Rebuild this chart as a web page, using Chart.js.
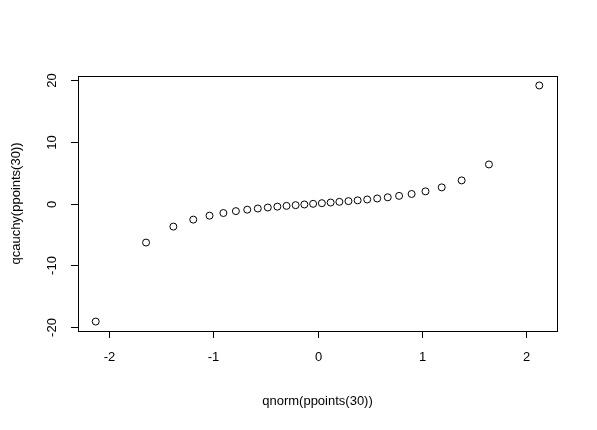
<!DOCTYPE html>
<html><head><meta charset="utf-8">
<script src="https://cdn.jsdelivr.net/npm/chart.js@4"></script>
<style>html,body{margin:0;padding:0;background:#fff}#c{display:block}</style>
</head><body>
<canvas id="c" width="597" height="430" style="width:597px;height:430px"></canvas>
<script>
const xValues=[-2.128,-1.645,-1.383,-1.192,-1.036,-0.903,-0.783,-0.674,-0.573,-0.477,-0.385,-0.297,-0.210,-0.126,-0.042,0.042,0.126,0.210,0.297,0.385,0.477,0.573,0.674,0.783,0.903,1.036,1.192,1.383,1.645,2.128];
const yValues=[-19.08,-6.314,-3.732,-2.605,-1.963,-1.540,-1.235,-1.0,-0.810,-0.649,-0.510,-0.384,-0.268,-0.158,-0.052,0.052,0.158,0.268,0.384,0.510,0.649,0.810,1.0,1.235,1.540,1.963,2.605,3.732,6.314,19.08];
const xTicks=[-2,-1,0,1,2];
const yTicks=[-20,-10,0,10,20];
const xTitle="qnorm(ppoints(30))", yTitle="qcauchy(ppoints(30))";
const FONT='13px "Liberation Sans", Arial, sans-serif';
const axesPlugin={id:'rax',afterDraw(ch){
 const c=ch.ctx,a=ch.chartArea,xs=ch.scales.x,ys=ch.scales.y;
 c.save();c.strokeStyle='#000';c.lineWidth=1;c.fillStyle='#000';c.font=FONT;
 c.strokeRect(a.left+0.5,a.top+0.5,a.right-a.left,a.bottom-a.top);
 c.beginPath();
 const x0=xs.getPixelForValue(xTicks[0]),x1=xs.getPixelForValue(xTicks[xTicks.length-1]);
 c.moveTo(x0,a.bottom+0.5);c.lineTo(x1,a.bottom+0.5);
 c.textAlign='center';c.textBaseline='top';
 xTicks.forEach(t=>{const p=Math.round(xs.getPixelForValue(t))+0.5;c.moveTo(p,a.bottom);c.lineTo(p,a.bottom+7);c.fillText(String(t),p,a.bottom+20);});
 const y0=ys.getPixelForValue(yTicks[0]),y1=ys.getPixelForValue(yTicks[yTicks.length-1]);
 c.moveTo(a.left+0.5,y0);c.lineTo(a.left+0.5,y1);
 c.stroke();
 c.beginPath();
 yTicks.forEach(t=>{const p=Math.round(ys.getPixelForValue(t))+0.5;c.moveTo(a.left,p);c.lineTo(a.left-7,p);
  c.save();c.translate(a.left-19,p);c.rotate(-Math.PI/2);c.textAlign='center';c.textBaseline='bottom';c.fillText(String(t),0,0);c.restore();});
 c.stroke();
 c.textAlign='center';c.textBaseline='middle';
 c.fillText(xTitle,(a.left+a.right)/2,401);
 c.save();c.translate(16,(a.top+a.bottom)/2);c.rotate(-Math.PI/2);c.fillText(yTitle,0,0);c.restore();
 c.restore();}};
new Chart(document.getElementById('c'),{type:'scatter',
 data:{datasets:[{data:xValues.map((x,i)=>({x:x,y:yValues[i]})),pointStyle:'circle',radius:3.5,borderColor:'#000',borderWidth:1,backgroundColor:'rgba(0,0,0,0)'}]},
 options:{responsive:false,animation:false,devicePixelRatio:1,
  layout:{padding:{left:78,right:40,top:76,bottom:99}},
  plugins:{legend:{display:false},tooltip:{enabled:false}},
  scales:{x:{type:'linear',display:false,min:-2.298,max:2.298},y:{type:'linear',display:false,min:-20.61,max:20.61}}},
 plugins:[axesPlugin]});
</script>
</body></html>
